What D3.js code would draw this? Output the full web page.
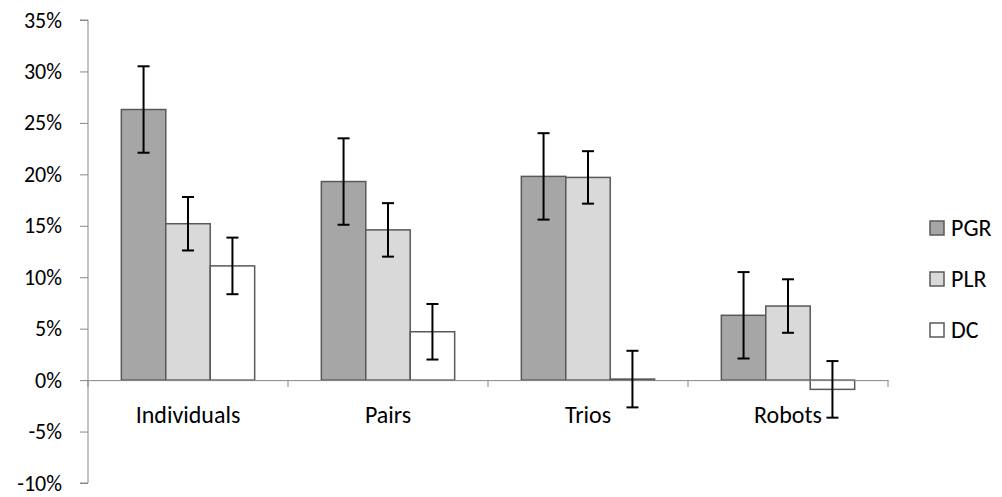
<!DOCTYPE html>
<html>
<head>
<meta charset="utf-8">
<script src="https://cdn.jsdelivr.net/npm/d3@7"></script>
<style>
  body { margin: 0; background: #fff; }
  text { font-family: Carlito, Calibri, Lato, sans-serif; }
</style>
</head>
<body>
<div id="chart"></div>
<script>
// groups along the x axis
const categories = ["Individuals", "Pairs", "Trios", "Robots"];
const seriesNames = ["PGR", "PLR", "DC"];
// mean values (%), one array per series
const pgr = [26.3, 19.3, 19.8, 6.3];
const plr = [15.2, 14.6, 19.7, 7.2];
const dc  = [11.1, 4.7, 0.1, -0.9];
// half width of the error bars (%)
const pgrErr = [4.2, 4.2, 4.2, 4.2];
const plrErr = [2.6, 2.6, 2.55, 2.6];
const dcErr  = [2.75, 2.7, 2.75, 2.75];
const yTicks = [-10, -5, 0, 5, 10, 15, 20, 25, 30, 35];

const colors = { PGR: "#a6a6a6", PLR: "#d9d9d9", DC: "#ffffff" };

const width = 1002, height = 497;
const margin = { top: 20, right: 114, bottom: 14, left: 88 };
const innerW = width - margin.left - margin.right,
      innerH = height - margin.top - margin.bottom;

const values = { PGR: pgr, PLR: plr, DC: dc };
const errs = { PGR: pgrErr, PLR: plrErr, DC: dcErr };

const rows = [];
categories.forEach((c, i) => {
    seriesNames.forEach(s => {
        rows.push({ category: c, series: s, value: values[s][i], err: errs[s][i] });
    });
});

const svg = d3.select("#chart")
    .append("svg")
    .attr("width", width)
    .attr("height", height)
    .append("g")
    .attr("transform", `translate(${margin.left},${margin.top})`);

const x = d3.scaleBand()
    .domain(categories)
    .range([0, innerW]);

// bar width: gap of 150% between groups
const barW = x.bandwidth() / 4.5;
const xs = d3.scaleBand()
    .domain(seriesNames)
    .range([0, barW * 3])
    .padding(0);
const groupOffset = (x.bandwidth() - barW * 3) / 2;

const y = d3.scaleLinear()
    .domain([-10, 35])
    .range([innerH, 0]);

// y axis
const yAxis = svg.append("g")
    .call(d3.axisLeft(y).tickValues(yTicks).tickSize(8).tickPadding(18).tickFormat(d => d + "%"));
yAxis.select(".domain").attr("stroke", "#868686").attr("d", `M-8,${y(35)}H0V${y(-10)}H-8`);
yAxis.selectAll(".tick line").attr("stroke", "#868686");
yAxis.selectAll("text")
    .style("font-size", "22px")
    .style("font-family", "Carlito, Calibri, Lato, sans-serif")
    .attr("fill", "#000");

// bars
svg.selectAll(".bar")
    .data(rows)
  .enter().append("rect")
    .attr("class", "bar")
    .attr("x", d => x(d.category) + groupOffset + xs(d.series))
    .attr("y", d => y(Math.max(0, d.value)))
    .attr("width", xs.bandwidth())
    .attr("height", d => Math.abs(y(d.value) - y(0)))
    .attr("fill", d => colors[d.series])
    .attr("stroke", "#595959")
    .attr("stroke-width", 1.5);

// x axis at zero
const xAxis = svg.append("g")
    .attr("transform", `translate(0,${y(0)})`)
    .call(d3.axisBottom(x).tickSize(0).tickPadding(26));
xAxis.select(".domain").attr("stroke", "#868686");
xAxis.selectAll("text")
    .style("font-size", "24px")
    .style("font-family", "Carlito, Calibri, Lato, sans-serif")
    .attr("fill", "#000");
// category separators
const seps = categories.map(c => x(c)).concat([innerW]);
xAxis.selectAll(".sep")
    .data(seps)
  .enter().append("line")
    .attr("class", "sep")
    .attr("x1", d => d).attr("x2", d => d)
    .attr("y1", 0).attr("y2", 7)
    .attr("stroke", "#868686");

// error bars
const eb = svg.selectAll(".err")
    .data(rows)
  .enter().append("g")
    .attr("class", "err")
    .attr("transform", d => `translate(${x(d.category) + groupOffset + xs(d.series) + xs.bandwidth() / 2},0)`)
    .attr("stroke", "#000")
    .attr("stroke-width", 2);
eb.append("line")
    .attr("y1", d => y(d.value + d.err))
    .attr("y2", d => y(d.value - d.err));
eb.append("line")
    .attr("x1", -6).attr("x2", 6)
    .attr("y1", d => y(d.value + d.err))
    .attr("y2", d => y(d.value + d.err));
eb.append("line")
    .attr("x1", -6).attr("x2", 6)
    .attr("y1", d => y(d.value - d.err))
    .attr("y2", d => y(d.value - d.err));

// legend
const legend = svg.append("g")
    .attr("transform", `translate(${innerW + 42},${207 - margin.top})`);
const li = legend.selectAll(".li")
    .data(seriesNames)
  .enter().append("g")
    .attr("transform", (d, i) => `translate(0,${i * 51})`);
li.append("rect")
    .attr("x", 0).attr("y", 14)
    .attr("width", 14).attr("height", 14)
    .attr("fill", d => colors[d])
    .attr("stroke", "#595959")
    .attr("stroke-width", 1.5);
li.append("text")
    .attr("x", 21).attr("y", 21)
    .attr("dy", "0.35em")
    .style("font-size", "24px")
    .text(d => d);
</script>
</body>
</html>
